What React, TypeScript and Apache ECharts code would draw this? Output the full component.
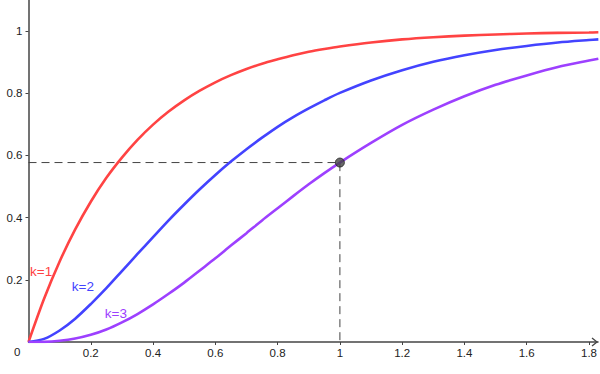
import React, { useEffect, useRef } from "react";
import * as echarts from "echarts";

const xs = [0, 0.05, 0.1, 0.15, 0.2, 0.25, 0.3, 0.35, 0.4, 0.45, 0.5, 0.55, 0.6, 0.65, 0.7, 0.75, 0.8, 0.85, 0.9, 0.95, 1.0, 1.1, 1.2, 1.3, 1.4, 1.5, 1.6, 1.7, 1.8, 1.83];
const k1 = [0, 0.139, 0.259, 0.362, 0.451, 0.528, 0.593, 0.65, 0.699, 0.741, 0.777, 0.808, 0.835, 0.858, 0.878, 0.895, 0.909, 0.922, 0.933, 0.942, 0.95, 0.963, 0.973, 0.98, 0.985, 0.989, 0.992, 0.994, 0.995, 0.996];
const k2 = [0, 0.01, 0.037, 0.075, 0.122, 0.173, 0.228, 0.283, 0.337, 0.391, 0.442, 0.491, 0.537, 0.58, 0.62, 0.657, 0.692, 0.723, 0.751, 0.777, 0.801, 0.841, 0.874, 0.901, 0.922, 0.939, 0.952, 0.963, 0.971, 0.973];
const k3 = [0, 0.0005, 0.004, 0.011, 0.023, 0.04, 0.063, 0.09, 0.121, 0.155, 0.191, 0.23, 0.269, 0.31, 0.35, 0.391, 0.43, 0.469, 0.507, 0.543, 0.577, 0.64, 0.698, 0.747, 0.79, 0.827, 0.857, 0.884, 0.905, 0.911];
const point = [1, 0.577];
const xTicks = [0.2, 0.4, 0.6, 0.8, 1, 1.2, 1.4, 1.6, 1.8];
const yTicks = [0.2, 0.4, 0.6, 0.8, 1];
const curveNames = ["k=1", "k=2", "k=3"];
const curveColors = ["#ff4343", "#4343ff", "#9d40ff"];
const labelPos = [[0.005, 0.228], [0.139, 0.18], [0.245, 0.093]];

const FONT = "'Liberation Sans', Arial, sans-serif";

export default function App() {
  const ref = useRef<HTMLDivElement>(null);
  useEffect(() => {
    if (!ref.current) return;
    const chart = echarts.init(ref.current, undefined, { renderer: "svg" });
    const curves = [k1, k2, k3].map((ys, i) => ({
      type: "line",
      name: curveNames[i],
      data: xs.map((x, j) => [x, ys[j]]),
      smooth: 0.3,
      showSymbol: false,
      symbol: "none",
      lineStyle: { color: curveColors[i], width: 2.6 },
      z: 3,
      markPoint: {
        symbol: "circle",
        symbolSize: 0,
        data: [
          {
            coord: labelPos[i],
            label: {
              show: true,
              position: "right",
              distance: 0,
              formatter: curveNames[i],
              color: curveColors[i],
              fontSize: 13.5,
              fontFamily: FONT,
            },
          },
        ],
      },
    }));
    chart.setOption({
      animation: false,
      grid: { left: 28.5, right: 0, top: 0, bottom: 32 },
      xAxis: {
        type: "value",
        min: 0,
        max: 1.8288,
        axisLine: { show: true, lineStyle: { color: "#444", width: 1.5 } },
        axisTick: { show: true, length: 3, customValues: xTicks, lineStyle: { color: "#444" } },
        axisLabel: { customValues: xTicks, color: "#222", fontSize: 11.5, fontFamily: FONT, margin: 5 },
        splitLine: { show: false },
      },
      yAxis: {
        type: "value",
        min: 0,
        max: 1.0997,
        axisLine: { show: true, lineStyle: { color: "#444", width: 1.5 } },
        axisTick: { show: true, length: 3, customValues: yTicks, lineStyle: { color: "#444" } },
        axisLabel: { customValues: yTicks, color: "#222", fontSize: 11.5, fontFamily: FONT, margin: 6 },
        splitLine: { show: false },
      },
      graphic: [
        { type: "text", left: 14, top: 346, style: { text: "0", fill: "#222", fontSize: 11.5, fontFamily: FONT } },
        {
          type: "polyline",
          shape: { points: [[592, 338], [597, 342], [592, 346]] },
          style: { stroke: "#444", lineWidth: 1.3, fill: null },
        },
      ],
      series: [
        {
          type: "line",
          data: [[0, point[1]], [point[0], point[1]], [point[0], 0]],
          showSymbol: false,
          symbol: "none",
          lineStyle: { color: "#444", width: 1, type: [8, 5] },
          z: 2,
        },
        ...curves,
        {
          type: "scatter",
          data: [point],
          symbolSize: 9,
          itemStyle: { color: "#444", borderColor: "#222", borderWidth: 1 },
          z: 5,
        },
      ],
    });
    return () => chart.dispose();
  }, []);
  return <div ref={ref} style={{ position: "absolute", left: 0, top: 0, width: 600, height: 374 }} />;
}
